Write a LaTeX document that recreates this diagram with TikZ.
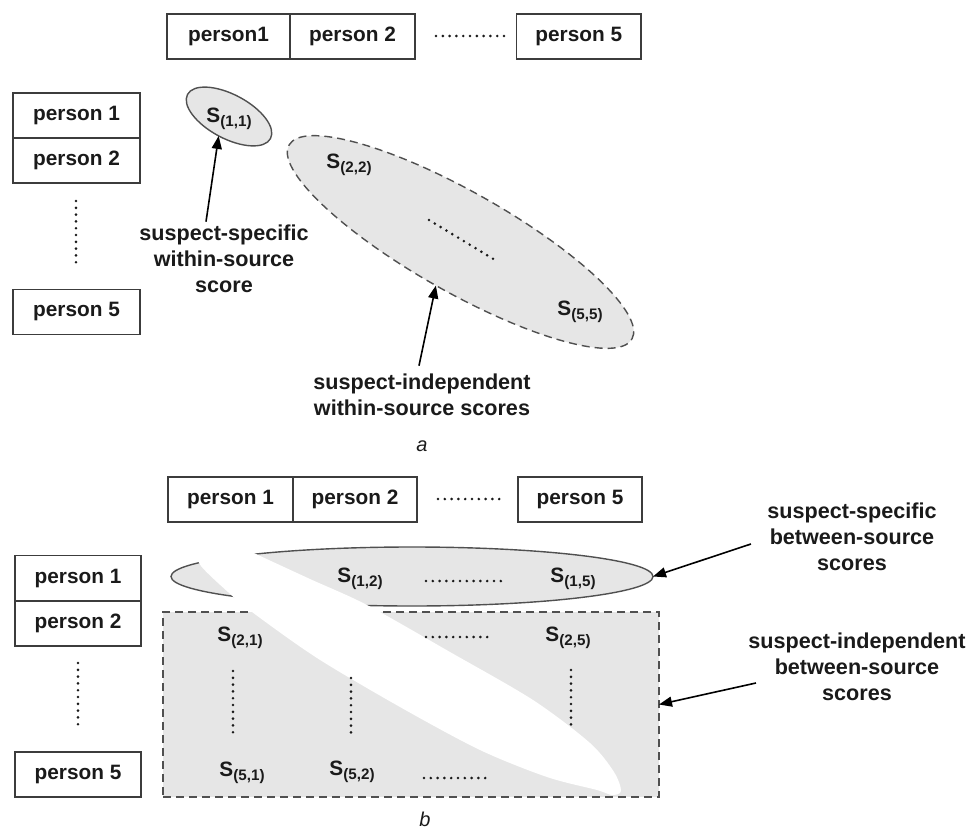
\documentclass[tikz,border=0pt]{standalone}
\usepackage{fontspec}
\setmainfont{Liberation Sans}
\usetikzlibrary{shapes.geometric,arrows.meta}
\definecolor{fillg}{HTML}{E6E6E6}
\definecolor{lineg}{HTML}{505050}
\definecolor{boxline}{HTML}{3C3C3C}
\definecolor{txt}{HTML}{1A1A1A}
\newcommand{\slab}[1]{{\fontsize{10.4}{11}\selectfont S}\raisebox{-1.8pt}{\fontsize{7.6}{8}\selectfont(#1)}}
\begin{document}
\begin{tikzpicture}[x=0.5pt,y=-0.5pt,
  pbox/.style={draw=boxline,line width=0.75pt,minimum height=22.5pt,inner sep=0pt,font=\fontsize{10.4}{12}\selectfont\bfseries,text=txt},
  lbl/.style={align=center,inner sep=0pt,font=\fontsize{10.8}{13}\selectfont\bfseries,text=txt},
  sl/.style={inner sep=0pt,font=\bfseries,text=txt},
  dots/.style={line width=1.45pt,line cap=round,dash pattern=on 0pt off 3.4pt,draw=txt},
  arr/.style={line width=0.8pt,draw=black,-{Triangle[length=6.5pt,width=5pt]}},
  shade/.style={fill=fillg,draw=lineg,line width=0.7pt,inner sep=0pt,outer sep=0pt},
  dashedge/.style={dash pattern=on 4pt off 2.5pt},
  caption/.style={inner sep=0pt,font=\fontsize{10}{12}\selectfont\itshape,text=txt}]
\useasboundingbox (0,0) rectangle (975,830);

% ---------------- panel a ----------------
\node[pbox,minimum width=61.5pt] (ta1) at (228.5,36.5) {person1};
\node[pbox,minimum width=62.5pt] (ta2) at (352.5,36.5) {person 2};
\node[pbox,minimum width=62.25pt] (ta5) at (578.75,36.5) {person 5};
\draw[dots] (436,36) -- (504,36);

\node[pbox,minimum width=63.5pt] (la1) at (76.5,115.5) {person 1};
\node[pbox,minimum width=63.5pt] (la2) at (76.5,160.5) {person 2};
\node[pbox,minimum width=63.5pt] (la5) at (76.5,312) {person 5};
\draw[dots] (76,201) -- (76,267);

\node[shade,ellipse,minimum width=47pt,minimum height=22pt,rotate=-28] (s11) at (229,116.5) {};
\node[sl] (s11t) at (229,119) {\slab{1,1}};

\node[shade,dashedge,ellipse,minimum width=197pt,minimum height=50pt,rotate=-29.5] (s22) at (460.5,242) {};
\node[sl] (s22t) at (349,165) {\slab{2,2}};
\node[sl] (s55t) at (580,312) {\slab{5,5}};
\draw[dots] (429,220) -- (495,260);

\node[lbl] (t1) at (224,259) {suspect-specific\\within-source\\score};
\node[lbl] (t2) at (422,395) {suspect-independent\\within-source scores};
\draw[arr] ([xshift=-9pt,yshift=1.5pt]t1.north) -- (s11.south);
\draw[arr] ([xshift=-1.5pt,yshift=4pt]t2.north) -- (s22.south);

\node[caption] (capa) at (422,446) {a};

% ---------------- panel b ----------------
\node[pbox,minimum width=62.5pt] (tb1) at (230.5,499.5) {person 1};
\node[pbox,minimum width=62pt] (tb2) at (355,499.5) {person 2};
\node[pbox,minimum width=62pt] (tb5) at (580,499.5) {person 5};
\draw[dots] (438,499) -- (505,499);

\node[pbox,minimum width=63pt] (lb1) at (78,578) {person 1};
\node[pbox,minimum width=63pt] (lb2) at (78,623.5) {person 2};
\node[pbox,minimum width=63pt] (lb5) at (78,774.5) {person 5};
\draw[dots] (78,663) -- (78,730);

\node[shade,ellipse,minimum width=241pt,minimum height=29.5pt] (e1) at (412,576.5) {};
\node[shade,dashedge,rectangle,minimum width=248pt,minimum height=92.5pt] (r1) at (411,704.5) {};

% white diagonal band
\fill[white] plot[smooth cycle] coordinates {
  (205,541) (240,546) (256,554) (310,579) (367,605) (450,652) (533,700)
  (590,743) (614,772) (621,791) (612,795) (597,790) (547,777) (480,750)
  (400,707) (317,658) (252,612) (228,592) (201,566) (196,550)};

\node[sl] (s12t) at (360,579) {\slab{1,2}};
\node[sl] (s15t) at (573,579) {\slab{1,5}};
\draw[dots] (426,581) -- (505,581);
\node[sl] (s21t) at (240,638) {\slab{2,1}};
\node[sl] (s25t) at (568,638) {\slab{2,5}};
\draw[dots] (426,637) -- (493,637);
\draw[dots] (233,671) -- (233,738);
\draw[dots] (351,678) -- (351,738);
\draw[dots] (571,670) -- (571,730);
\node[sl] (s51t) at (242,773) {\slab{5,1}};
\node[sl] (s52t) at (352,772) {\slab{5,2}};
\draw[dots] (424,778) -- (490,778);

\node[lbl] (t3) at (852,537) {suspect-specific\\between-source\\scores};
\node[lbl] (t4) at (857,667) {suspect-independent\\between-source\\scores};
\draw[arr] ([xshift=-8pt,yshift=-3.5pt]t3.west) -- (e1.east);
\draw[arr] ([xshift=4pt,yshift=-8pt]t4.west) -- (r1.east);

\node[caption] (capb) at (425,819) {b};
\end{tikzpicture}
\end{document}
